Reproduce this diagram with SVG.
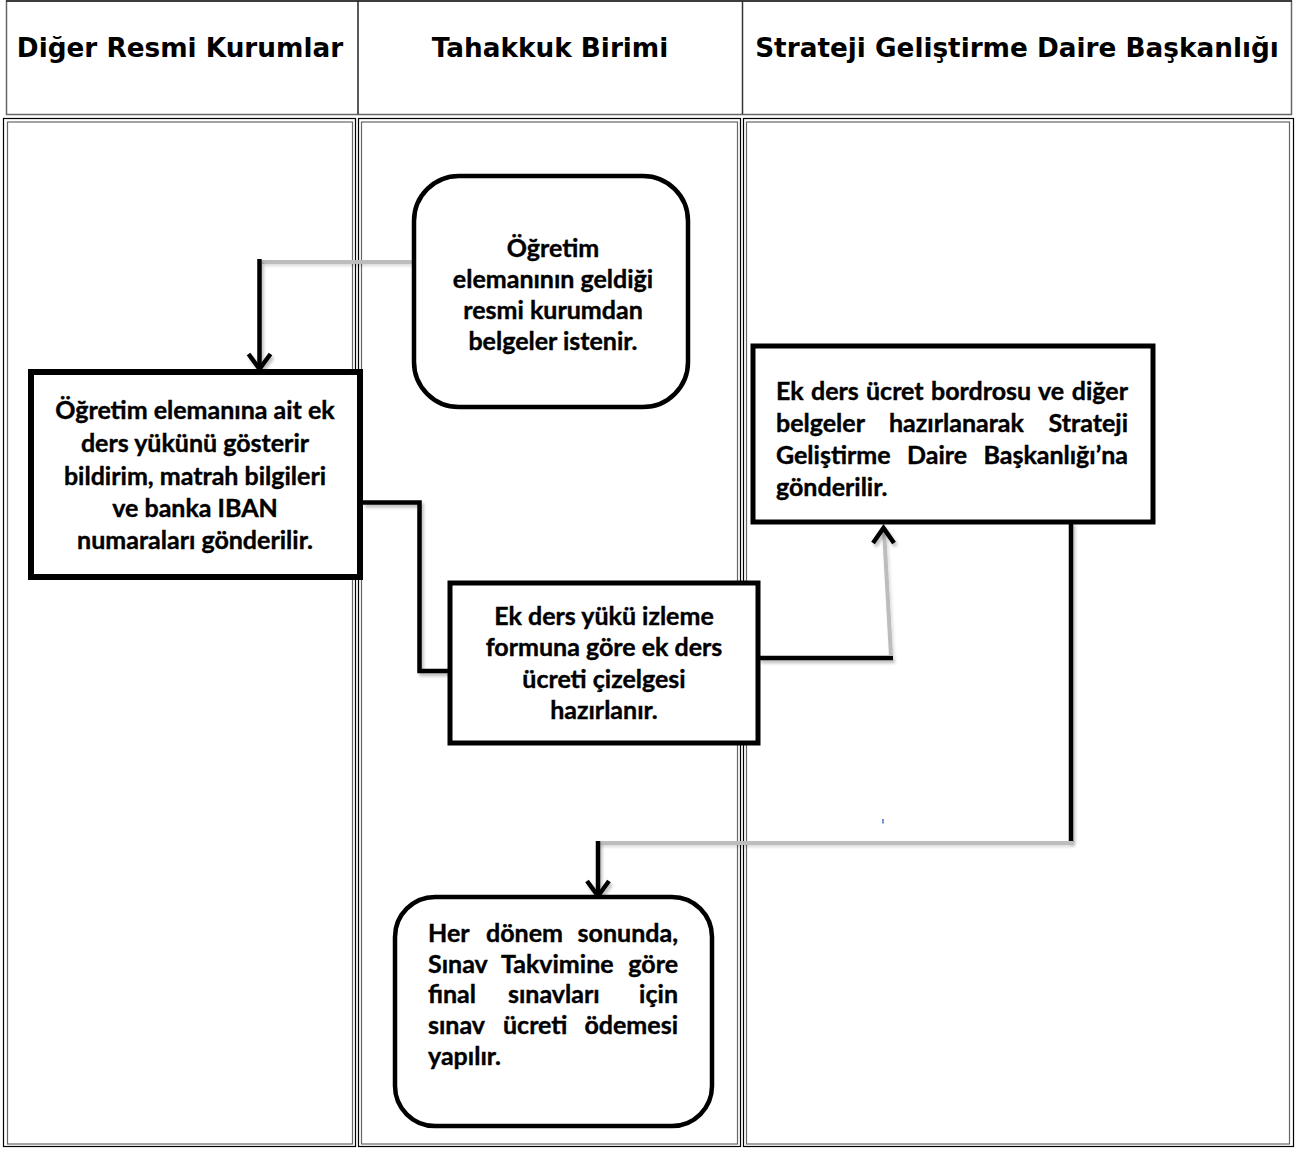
<svg xmlns="http://www.w3.org/2000/svg" width="1298" height="1149" viewBox="0 0 1298 1149">
<style>
.hdr{font-family:"DejaVu Sans","Liberation Sans",sans-serif;font-weight:bold;font-size:26.3px;fill:#000;text-anchor:middle}
.t{font-family:Lato,"Liberation Sans",sans-serif;font-weight:bold;font-size:25px;fill:#000;stroke:#000;stroke-width:0.4}
.c{text-anchor:middle}
.cellO{fill:none;stroke:#000;stroke-width:1.2}
.cellI{fill:none;stroke:#666;stroke-width:1.2}
.box{fill:#fff;stroke:#000}
.blk{fill:none;stroke:#000;stroke-width:4.5;stroke-linejoin:miter;stroke-linecap:butt}
.gry{fill:none;stroke:#bdbdbd;stroke-width:4;stroke-linecap:butt}
</style>
<defs>
<marker id="arr" markerUnits="userSpaceOnUse" markerWidth="40" markerHeight="40" viewBox="-20 -20 40 40" refX="0" refY="0" orient="auto">
<path d="M-15,-11 L0,0 L-15,11" fill="none" stroke="#000" stroke-width="4.5"/>
</marker>
<filter id="sh" filterUnits="userSpaceOnUse" x="0" y="0" width="1298" height="1149">
<feDropShadow dx="2" dy="3" stdDeviation="1.8" flood-color="#000" flood-opacity="0.25"/>
</filter>
<filter id="bl" filterUnits="userSpaceOnUse" x="0" y="0" width="1298" height="1149">
<feDropShadow dx="1.5" dy="2" stdDeviation="1.5" flood-color="#000" flood-opacity="0.15"/>
</filter>
</defs>
<rect width="1298" height="1149" fill="#fff"/>

<g id="header">
<rect x="6.5" y="1" width="1285" height="113.5" fill="none" stroke="#666" stroke-width="1.5"/>
<line x1="6" y1="1" x2="1292" y2="1" stroke="#222" stroke-width="1.5"/>
<line x1="358" y1="1" x2="358" y2="114" stroke="#222" stroke-width="1.5"/>
<line x1="742.5" y1="1" x2="742.5" y2="114" stroke="#333" stroke-width="1.5"/>
<text class="hdr" x="180" y="57">Diğer Resmi Kurumlar</text>
<text class="hdr" x="550" y="57">Tahakkuk Birimi</text>
<text class="hdr" x="1017" y="57">Strateji Geliştirme Daire Başkanlığı</text>
</g>

<g id="lanes">
<rect class="cellO" x="3.5" y="118.5" width="352" height="1028"/>
<rect class="cellI" x="7.5" y="122" width="345" height="1022"/>
<rect class="cellO" x="358.5" y="118.5" width="382" height="1028"/>
<rect class="cellI" x="361.5" y="122" width="376" height="1022"/>
<rect class="cellO" x="743.5" y="118.5" width="550" height="1028"/>
<rect class="cellI" x="746.5" y="122" width="543" height="1022"/>
</g>

<g id="connectors">
<line class="gry" x1="262" y1="262" x2="421" y2="262" filter="url(#bl)"/>
<path class="blk" d="M259.5,259 L259.5,369" marker-end="url(#arr)" filter="url(#sh)"/>
<path class="blk" d="M363,502.5 L419.5,502.5 L419.5,671 L450,671" filter="url(#sh)"/>
<path class="blk" d="M759,658 L893,658" filter="url(#sh)"/>
<path class="gry" d="M891,656 L884,530" filter="url(#bl)"/>
<path d="M873,543 L883.5,528 L894,543" fill="none" stroke="#000" stroke-width="4.5" filter="url(#sh)"/>
<path class="blk" d="M1071,522 L1071,842" filter="url(#sh)"/>
<line class="gry" x1="1073" y1="843" x2="598" y2="843" filter="url(#bl)"/>
<path class="blk" d="M598,841 L598,896" marker-end="url(#arr)" filter="url(#sh)"/>
<line x1="422" y1="256.5" x2="422" y2="260.5" stroke="#333" stroke-width="1"/>
<line x1="883" y1="819" x2="883" y2="823.5" stroke="#4472c4" stroke-width="1.5"/>
</g>

<g id="node1">
<rect class="box" x="414" y="176" width="274" height="231" rx="45" ry="45" stroke-width="4.5"/>
<text class="t c" x="553" y="257">Öğretim</text>
<text class="t c" x="553" y="288">elemanının geldiği</text>
<text class="t c" x="553" y="319">resmi kurumdan</text>
<text class="t c" x="553" y="350">belgeler istenir.</text>
</g>

<g id="node2">
<rect class="box" x="31" y="372" width="329" height="205" stroke-width="6"/>
<text class="t c" x="195" y="419">Öğretim elemanına ait ek</text>
<text class="t c" x="195" y="452">ders yükünü gösterir</text>
<text class="t c" x="195" y="485">bildirim, matrah bilgileri</text>
<text class="t c" x="195" y="517">ve banka IBAN</text>
<text class="t c" x="195" y="549">numaraları gönderilir.</text>
</g>

<g id="node3">
<rect class="box" x="450" y="583" width="308" height="160" stroke-width="5"/>
<text class="t c" x="604" y="625">Ek ders yükü izleme</text>
<text class="t c" x="604" y="656">formuna göre ek ders</text>
<text class="t c" x="604" y="688">ücreti çizelgesi</text>
<text class="t c" x="604" y="719">hazırlanır.</text>
</g>

<g id="node4">
<rect class="box" x="753" y="346" width="400" height="176" stroke-width="5"/>
<text class="t" y="400"><tspan x="776">Ek</tspan><tspan x="811">ders</tspan><tspan x="866">ücret</tspan><tspan x="931">bordrosu</tspan><tspan x="1038">ve</tspan><tspan x="1128" text-anchor="end">diğer</tspan></text>
<text class="t" y="432"><tspan x="776">belgeler</tspan><tspan x="889">hazırlanarak</tspan><tspan x="1128" text-anchor="end">Strateji</tspan></text>
<text class="t" y="464"><tspan x="776">Geliştirme</tspan><tspan x="907">Daire</tspan><tspan x="1128" text-anchor="end">Başkanlığı’na</tspan></text>
<text class="t" x="776" y="496">gönderilir.</text>
</g>

<g id="node5">
<rect class="box" x="395" y="897" width="317" height="229" rx="40" ry="40" stroke-width="4.5"/>
<text class="t" y="942"><tspan x="428">Her</tspan><tspan x="486">dönem</tspan><tspan x="678" text-anchor="end">sonunda,</tspan></text>
<text class="t" y="973"><tspan x="428">Sınav</tspan><tspan x="501">Takvimine</tspan><tspan x="678" text-anchor="end">göre</tspan></text>
<text class="t" y="1003"><tspan x="428">final</tspan><tspan x="508">sınavları</tspan><tspan x="678" text-anchor="end">için</tspan></text>
<text class="t" y="1034"><tspan x="428">sınav</tspan><tspan x="503">ücreti</tspan><tspan x="678" text-anchor="end">ödemesi</tspan></text>
<text class="t" x="428" y="1065">yapılır.</text>
</g>
</svg>
